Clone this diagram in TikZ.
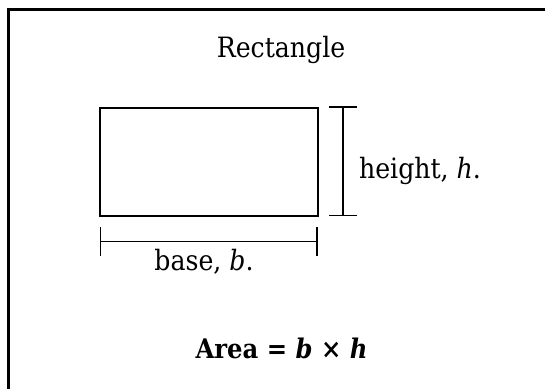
\documentclass[tikz,border=0pt]{standalone}
\usepackage{fontspec}
\setmainfont{DejaVu Serif Condensed}
\begin{document}
\begin{tikzpicture}[x=1pt,y=-1pt,
  frameline/.style={line width=2.4pt},
  shapeline/.style={line width=2.4pt},
  dimline/.style={line width=1.6pt},
  lbl/.style={inner sep=0pt,anchor=base,font=\fontsize{28}{34}\selectfont},
  blbl/.style={inner sep=0pt,anchor=base,font=\fontsize{27}{34}\selectfont\bfseries}]
\useasboundingbox (0,0) rectangle (545,388);
% frame (top and left edges)
\coordinate (fTL) at (8.5,9.5);
\coordinate (fTR) at (546,9.5);
\coordinate (fBL) at (8.5,389);
\draw[frameline] (fTR) -- (fTL) -- (fBL);
% title
\node[lbl] (title) at (281,57) {Rectangle};
% rectangle
\node[draw,shapeline,minimum width=218pt,minimum height=108pt,inner sep=0pt,anchor=north west] (rect) at (99,107) {};
% height dimension
\coordinate (hT) at (343,107);
\coordinate (hB) at (343,215.5);
\coordinate (hTl) at (329,107);
\coordinate (hTr) at (357,107);
\coordinate (hBl) at (329,215.5);
\coordinate (hBr) at (357,215.5);
\draw[dimline] (hT) -- (hB);
\draw[dimline] (hTl) -- (hTr);
\draw[dimline] (hBl) -- (hBr);
\node[lbl] (hlabel) at (420,178) {height, \textit{h}.};
% base dimension
\coordinate (bL) at (100.5,241.5);
\coordinate (bR) at (317,241.5);
\coordinate (bLt) at (100.5,227);
\coordinate (bLb) at (100.5,256);
\coordinate (bRt) at (317,227);
\coordinate (bRb) at (317,256);
\draw[dimline] (bL) -- (bR);
\draw[dimline] (bLt) -- (bLb);
\draw[dimline] (bRt) -- (bRb);
\node[lbl] (blabel) at (204,270) {base, \textit{b}.};
% formula
\node[blbl] (area) at (281.5,358) {Area = \textit{b} × \textit{h}};
\end{tikzpicture}
\end{document}
